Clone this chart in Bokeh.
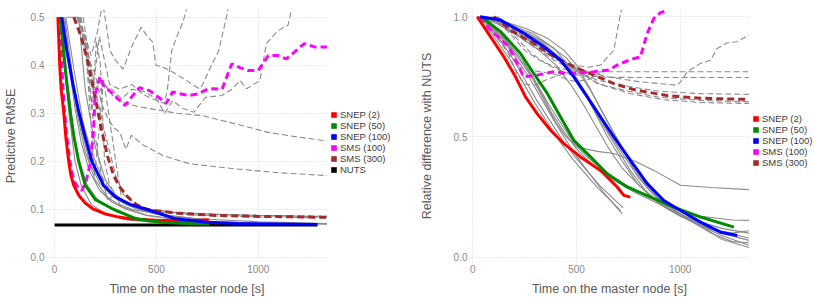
from bokeh.plotting import figure
from bokeh.layouts import row
from bokeh.models import FixedTicker, PrintfTickFormatter, Legend, LegendItem, Range1d
from bokeh.embed import file_html
from bokeh.resources import INLINE

FONT = "Liberation Sans"

# ---------------- Predictive RMSE vs time ----------------
rmse_snep2_t = [16, 25, 32, 45, 55, 69, 80, 94, 120, 150, 191, 250, 300, 368, 500, 650, 757]
rmse_snep2 = [0.5, 0.4, 0.35, 0.3, 0.25, 0.2, 0.17, 0.15, 0.128, 0.113, 0.1, 0.09, 0.085, 0.08, 0.077, 0.076, 0.078]

rmse_snep50_t = [29, 45, 60, 78, 95, 118, 150, 200, 288, 400, 520, 650, 760]
rmse_snep50 = [0.5, 0.42, 0.36, 0.3, 0.25, 0.2, 0.15, 0.12, 0.1, 0.08, 0.073, 0.07, 0.069]

rmse_snep100_t = [35, 60, 90, 120, 150, 182, 240, 300, 370, 450, 595, 750, 900, 1100, 1291]
rmse_snep100 = [0.5, 0.43, 0.36, 0.3, 0.25, 0.2, 0.15, 0.125, 0.11, 0.1, 0.08, 0.073, 0.07, 0.069, 0.068]

rmse_sms100_t = [22, 35, 45, 60, 75, 94, 115, 134, 155, 175, 191, 199, 212, 223, 239, 260, 288, 345,
                 380, 417, 466, 520, 547, 579, 620, 660, 700, 757, 822, 870, 910, 951, 1000, 1049,
                 1097, 1138, 1226, 1275, 1340]
rmse_sms100 = [0.5, 0.4, 0.32, 0.25, 0.2, 0.16, 0.145, 0.139, 0.16, 0.195, 0.264, 0.34, 0.36, 0.376,
               0.358, 0.35, 0.34, 0.316, 0.335, 0.353, 0.347, 0.33, 0.32, 0.344, 0.34, 0.337, 0.34,
               0.351, 0.35, 0.403, 0.395, 0.389, 0.389, 0.42, 0.42, 0.413, 0.445, 0.438, 0.438]

rmse_sms300_t = [94, 130, 167, 200, 231, 260, 290, 320, 360, 400, 450, 500, 600, 700, 800, 1000, 1200, 1340]
rmse_sms300 = [0.5, 0.46, 0.4, 0.33, 0.264, 0.21, 0.17, 0.146, 0.125, 0.11, 0.1, 0.097, 0.092, 0.089,
               0.087, 0.085, 0.084, 0.083]

rmse_nuts_t = [0, 1290]
rmse_nuts = [0.067, 0.067]

# individual SMS runs (t, rmse)
rmse_sms_run_a = [(110, 0.5), (150, 0.46), (180, 0.42), (210, 0.47), (236, 0.53), (255, 0.48), (272, 0.43),
                  (300, 0.41), (336, 0.392), (380, 0.44), (425, 0.479), (455, 0.46), (482, 0.448), (497, 0.4),
                  (530, 0.396), (563, 0.39), (640, 0.37), (709, 0.351), (725, 0.358), (770, 0.4), (806, 0.43),
                  (862, 0.535)]
rmse_sms_run_b = [(120, 0.5), (160, 0.44), (185, 0.36), (200, 0.39), (220, 0.46), (240, 0.42), (270, 0.36),
                  (320, 0.35), (380, 0.36), (430, 0.34), (480, 0.33), (540, 0.32), (555, 0.354), (575, 0.43),
                  (600, 0.46), (630, 0.49), (660, 0.535)]
rmse_sms_run_c = [(130, 0.5), (170, 0.38), (200, 0.33), (240, 0.36), (280, 0.35), (330, 0.33), (380, 0.35),
                  (440, 0.345), (500, 0.33), (540, 0.3), (579, 0.326), (630, 0.31), (684, 0.302), (741, 0.333),
                  (822, 0.337), (870, 0.35), (911, 0.368), (943, 0.351), (1008, 0.368), (1040, 0.445),
                  (1097, 0.472), (1146, 0.483), (1162, 0.514), (1180, 0.54)]
rmse_sms_run_d = [(140, 0.5), (175, 0.4), (200, 0.35), (230, 0.37), (260, 0.35), (300, 0.33), (350, 0.32),
                  (400, 0.315), (460, 0.31), (530, 0.305), (600, 0.3), (725, 0.295), (886, 0.278),
                  (1049, 0.26), (1200, 0.25), (1340, 0.242)]
rmse_sms_run_e = [(125, 0.5), (160, 0.42), (200, 0.38), (230, 0.32), (260, 0.29), (290, 0.27), (320, 0.26),
                  (350, 0.225), (377, 0.254), (430, 0.235), (531, 0.212), (660, 0.195), (886, 0.184),
                  (1100, 0.176), (1340, 0.17)]
rmse_sms_run_f = [(95, 0.5), (130, 0.48), (160, 0.4), (185, 0.3), (200, 0.25), (230, 0.17), (270, 0.14),
                  (320, 0.12), (380, 0.105), (450, 0.097), (600, 0.09), (800, 0.086), (1000, 0.084),
                  (1340, 0.082)]
rmse_sms_run_g = [(110, 0.5), (150, 0.45), (200, 0.35), (240, 0.27), (300, 0.17), (340, 0.13), (400, 0.11),
                  (460, 0.1), (600, 0.093), (900, 0.088), (1340, 0.084)]
rmse_sms_run_h = [(120, 0.5), (160, 0.42), (185, 0.31), (205, 0.45), (225, 0.4), (245, 0.2), (270, 0.15),
                  (300, 0.13), (335, 0.115), (400, 0.104), (500, 0.095), (700, 0.09), (1000, 0.087),
                  (1340, 0.085)]
rmse_sms_run_i = [(150, 0.45), (175, 0.3), (195, 0.17), (215, 0.25), (240, 0.37), (265, 0.3), (300, 0.2),
                  (330, 0.12), (360, 0.11), (420, 0.1), (550, 0.094), (800, 0.089), (1100, 0.086),
                  (1340, 0.085)]

# individual SNEP runs (t, rmse)
rmse_snep_run_1 = [(30, 0.5), (50, 0.4), (70, 0.3), (100, 0.2), (130, 0.15), (180, 0.11), (250, 0.09),
                   (350, 0.078), (500, 0.072), (750, 0.07)]
rmse_snep_run_2 = [(35, 0.5), (60, 0.38), (90, 0.27), (120, 0.2), (160, 0.15), (220, 0.115), (300, 0.095),
                   (420, 0.08), (600, 0.073), (800, 0.07)]
rmse_snep_run_3 = [(40, 0.5), (70, 0.4), (100, 0.31), (130, 0.24), (170, 0.18), (220, 0.14), (280, 0.115),
                   (350, 0.1), (450, 0.087), (600, 0.078), (760, 0.076)]
rmse_snep_run_4 = [(45, 0.5), (80, 0.38), (110, 0.3), (150, 0.22), (200, 0.16), (260, 0.125), (330, 0.105),
                   (450, 0.088), (650, 0.076), (1000, 0.071), (1340, 0.069)]
rmse_snep_run_5 = [(50, 0.5), (90, 0.37), (130, 0.27), (170, 0.2), (220, 0.155), (280, 0.128), (340, 0.112),
                   (420, 0.098), (550, 0.085), (750, 0.078)]
rmse_snep_run_6 = [(55, 0.5), (95, 0.39), (140, 0.28), (180, 0.22), (230, 0.17), (260, 0.12), (300, 0.13),
                   (320, 0.11), (380, 0.1), (500, 0.09), (700, 0.08)]
rmse_snep_run_7 = [(60, 0.5), (118, 0.5), (150, 0.35), (200, 0.23), (250, 0.16), (300, 0.13), (380, 0.105),
                   (500, 0.09), (700, 0.08), (1000, 0.074), (1340, 0.07)]

# ---------------- Relative difference with NUTS vs time ----------------
rel_snep2_t = [21, 85, 150, 206, 254, 310, 375, 439, 519, 616, 696, 728, 760]
rel_snep2 = [1.0, 0.917, 0.833, 0.75, 0.667, 0.597, 0.528, 0.472, 0.417, 0.361, 0.292, 0.257, 0.25]

rel_snep50_t = [40, 134, 230, 294, 359, 423, 487, 552, 648, 744, 857, 969, 1098, 1259]
rel_snep50 = [1.0, 0.938, 0.847, 0.764, 0.681, 0.583, 0.486, 0.431, 0.347, 0.292, 0.25, 0.208, 0.167, 0.125]

rel_snep100_t = [35, 134, 246, 342, 423, 487, 552, 616, 680, 760, 841, 921, 1001, 1098, 1194, 1275]
rel_snep100 = [1.0, 0.986, 0.931, 0.875, 0.819, 0.75, 0.667, 0.583, 0.5, 0.403, 0.306, 0.236, 0.194,
               0.146, 0.104, 0.09]

rel_sms100_t = [35, 93, 166, 190, 222, 246, 310, 390, 470, 583, 655, 696, 760, 808, 841, 873, 905, 937]
rel_sms100 = [1.0, 0.938, 0.882, 0.847, 0.792, 0.75, 0.757, 0.771, 0.764, 0.771, 0.778, 0.799, 0.822,
              0.833, 0.931, 0.993, 1.017, 1.025]

rel_sms300_t = [101, 182, 294, 391, 487, 583, 680, 776, 937, 1098, 1331]
rel_sms300 = [1.0, 0.944, 0.889, 0.833, 0.792, 0.757, 0.722, 0.697, 0.672, 0.661, 0.656]

rel_sms_run_1 = [(100, 1.0), (200, 0.93), (300, 0.87), (400, 0.83), (480, 0.8), (560, 0.79), (616, 0.799),
                 (680, 0.861), (712, 1.014), (720, 1.04)]
rel_sms_run_2 = [(90, 1.0), (180, 0.93), (250, 0.86), (320, 0.82), (400, 0.79), (480, 0.775), (600, 0.771),
                 (800, 0.771), (1000, 0.771), (1331, 0.771)]
rel_sms_run_3 = [(110, 1.0), (200, 0.92), (280, 0.85), (360, 0.8), (440, 0.77), (520, 0.755), (650, 0.748),
                 (900, 0.747), (1331, 0.747)]
rel_sms_run_4 = [(120, 1.0), (220, 0.93), (320, 0.87), (420, 0.82), (520, 0.78), (650, 0.75), (800, 0.73),
                 (985, 0.715), (1001, 0.729), (1034, 0.771), (1098, 0.806), (1146, 0.819), (1178, 0.868),
                 (1227, 0.892), (1275, 0.896), (1331, 0.924)]
rel_sms_run_5 = [(95, 1.0), (190, 0.94), (290, 0.88), (390, 0.82), (480, 0.78), (600, 0.736), (750, 0.71),
                 (900, 0.69), (1100, 0.68), (1331, 0.677)]
rel_sms_run_6 = [(105, 1.0), (200, 0.95), (300, 0.89), (400, 0.83), (500, 0.78), (600, 0.722), (750, 0.69),
                 (900, 0.665), (1100, 0.652), (1331, 0.646)]
rel_sms_run_7 = [(115, 1.0), (210, 0.94), (310, 0.88), (410, 0.82), (510, 0.77), (610, 0.72), (760, 0.68),
                 (920, 0.655), (1100, 0.643), (1331, 0.639)]
rel_sms_run_8 = [(35, 1.0), (110, 0.92), (170, 0.85), (215, 0.76), (250, 0.72), (300, 0.715), (360, 0.74),
                 (430, 0.76), (500, 0.765), (560, 0.77)]
rel_sms_run_9 = [(30, 1.0), (120, 0.92), (180, 0.84), (225, 0.79), (270, 0.78), (330, 0.77), (400, 0.76),
                 (450, 0.74), (500, 0.73), (560, 0.74), (620, 0.77)]

rel_snep_run_1 = [(21, 1.0), (100, 0.92), (180, 0.82), (240, 0.73), (300, 0.64), (360, 0.56), (420, 0.48),
                  (480, 0.41), (540, 0.35), (600, 0.29), (660, 0.24), (712, 0.194)]
rel_snep_run_2 = [(30, 1.0), (110, 0.93), (190, 0.83), (250, 0.74), (310, 0.65), (370, 0.57), (430, 0.49),
                  (490, 0.42), (550, 0.36), (610, 0.3), (670, 0.25), (725, 0.205)]
rel_snep_run_3 = [(40, 1.0), (130, 0.93), (220, 0.83), (290, 0.74), (350, 0.64), (400, 0.56), (450, 0.5),
                  (503, 0.458), (600, 0.44), (680, 0.431), (780, 0.4), (873, 0.361), (1001, 0.299),
                  (1150, 0.29), (1331, 0.281)]
rel_snep_run_4 = [(40, 1.0), (140, 0.92), (240, 0.82), (310, 0.72), (370, 0.63), (430, 0.55), (490, 0.47),
                  (560, 0.41), (660, 0.34), (760, 0.29), (870, 0.24), (980, 0.2), (1100, 0.17), (1250, 0.155),
                  (1331, 0.153)]
rel_snep_run_5 = [(45, 1.0), (150, 0.9), (250, 0.8), (320, 0.7), (380, 0.6), (440, 0.52), (500, 0.45),
                  (580, 0.38), (680, 0.32), (780, 0.27), (900, 0.22), (1050, 0.16), (1200, 0.12), (1331, 0.1)]
rel_snep_run_6 = [(35, 1.0), (120, 0.93), (200, 0.84), (270, 0.75), (330, 0.66), (390, 0.57), (440, 0.5),
                  (500, 0.42), (560, 0.35), (630, 0.27), (690, 0.21), (720, 0.18)]
rel_snep_run_7 = [(30, 1.0), (130, 0.98), (240, 0.94), (340, 0.89), (420, 0.83), (480, 0.77), (540, 0.69),
                  (600, 0.6), (660, 0.51), (730, 0.42), (800, 0.33), (870, 0.26), (950, 0.2), (1050, 0.15),
                  (1150, 0.1), (1250, 0.065), (1331, 0.06)]
rel_snep_run_8 = [(35, 1.0), (140, 0.97), (250, 0.93), (350, 0.88), (430, 0.82), (500, 0.74), (560, 0.65),
                  (620, 0.56), (690, 0.46), (760, 0.36), (830, 0.28), (900, 0.22), (1000, 0.17), (1100, 0.13),
                  (1200, 0.09), (1331, 0.05)]
rel_snep_run_9 = [(40, 1.0), (150, 0.98), (260, 0.95), (360, 0.91), (440, 0.86), (500, 0.8), (560, 0.71),
                  (620, 0.61), (690, 0.5), (760, 0.4), (830, 0.31), (900, 0.24), (980, 0.19), (1080, 0.14),
                  (1200, 0.1), (1331, 0.07)]
rel_snep_run_10 = [(45, 1.0), (160, 0.97), (270, 0.93), (370, 0.88), (450, 0.83), (510, 0.77), (570, 0.69),
                   (640, 0.58), (710, 0.47), (780, 0.36), (850, 0.28), (930, 0.22), (1020, 0.17),
                   (1120, 0.12), (1200, 0.075), (1331, 0.04)]
rel_snep_run_11 = [(30, 1.0), (120, 0.97), (220, 0.92), (320, 0.86), (400, 0.8), (470, 0.72), (530, 0.64),
                   (590, 0.55), (650, 0.46), (720, 0.37), (800, 0.3), (880, 0.24), (970, 0.19), (1070, 0.15),
                   (1180, 0.11), (1331, 0.08)]
rel_snep_run_12 = [(50, 1.0), (170, 0.97), (290, 0.93), (390, 0.87), (460, 0.8), (530, 0.7), (590, 0.6),
                   (650, 0.5), (720, 0.4), (790, 0.31), (860, 0.25), (940, 0.2), (1030, 0.16), (1130, 0.12),
                   (1250, 0.1), (1331, 0.11)]

time_ticks = [0, 500, 1000]
rmse_ticks = [0.0, 0.1, 0.2, 0.3, 0.4, 0.5]
rel_ticks = [0.0, 0.5, 1.0]

method_labels = ["SNEP (2)", "SNEP (50)", "SNEP (100)", "SMS (100)", "SMS (300)", "NUTS"]
method_colors = ["#ff0000", "#008b00", "#0000ff", "#ff00ff", "#a52a2a", "#000000"]

RUN_GRAY = "#8a8a8a"


def style_panel(p, yticks, ylabel, ylabel_standoff):
    p.outline_line_color = None
    p.background_fill_color = "white"
    p.border_fill_color = "white"
    for ax in (p.xaxis[0], p.yaxis[0]):
        ax.axis_line_color = None
        ax.major_tick_line_color = None
        ax.minor_tick_line_color = None
        ax.major_tick_out = 0
        ax.major_tick_in = 0
        ax.major_label_standoff = 2
        ax.major_label_text_font = FONT
        ax.major_label_text_font_size = "10px"
        ax.major_label_text_color = "#8a8a8a"
        ax.axis_label_text_font = FONT
        ax.axis_label_text_font_size = "12.5px"
        ax.axis_label_text_font_style = "normal"
        ax.axis_label_text_color = "#5a5a5a"
    p.xaxis.ticker = FixedTicker(ticks=time_ticks)
    p.xaxis.formatter = PrintfTickFormatter(format="%d")
    p.xaxis.axis_label = "Time on the master node [s]"
    p.xaxis.axis_label_standoff = 6
    p.yaxis.ticker = FixedTicker(ticks=yticks)
    p.yaxis.formatter = PrintfTickFormatter(format="%.1f")
    p.yaxis.axis_label = ylabel
    p.yaxis.axis_label_standoff = ylabel_standoff
    for g in (p.xgrid[0], p.ygrid[0]):
        g.grid_line_color = "#d2d2d2"
        g.grid_line_dash = "1 2"
        g.grid_line_width = 1


def draw_runs(p, runs, dash):
    for run in runs:
        p.line([pt[0] for pt in run], [pt[1] for pt in run],
               line_color=RUN_GRAY, line_width=1.1, line_dash=dash)


def legend_strip(width, n, bottom):
    # narrow canvas next to a panel that only holds the colour key
    s = figure(width=width, height=298, x_range=Range1d(0, 1), y_range=Range1d(0, 1),
               x_axis_type=None, y_axis_type=None, output_backend="svg", toolbar_location=None,
               min_border_left=0, min_border_right=0, min_border_top=0, min_border_bottom=0)
    s.outline_line_color = None
    s.background_fill_color = "white"
    s.border_fill_color = "white"
    items = []
    for lab, col in zip(method_labels[:n], method_colors[:n]):
        r = s.quad(left=[0], right=[0], top=[0], bottom=[0], fill_color=col, line_color=None)
        items.append(LegendItem(label=lab, renderers=[r]))
    leg = Legend(items=items, location=(3, bottom), glyph_width=7, glyph_height=7,
                 label_height=11, label_standoff=3, spacing=0, padding=0, margin=0,
                 border_line_color=None, background_fill_alpha=0,
                 label_text_font=FONT, label_text_font_size="9.5px", label_text_color="#3c3c3c")
    s.add_layout(leg)
    return s


# ---- left panel
left = figure(width=327, height=298, x_range=Range1d(-40, 1340), y_range=Range1d(-0.011, 0.516),
              output_backend="svg", toolbar_location=None,
              min_border_left=42, min_border_right=0, min_border_top=2, min_border_bottom=36)
style_panel(left, rmse_ticks, "Predictive RMSE", 10)

left.line(rmse_nuts_t, rmse_nuts, line_color=method_colors[5], line_width=3)
draw_runs(left, [rmse_sms_run_a, rmse_sms_run_b, rmse_sms_run_c, rmse_sms_run_d, rmse_sms_run_e,
                 rmse_sms_run_f, rmse_sms_run_g, rmse_sms_run_h, rmse_sms_run_i], "6 3")
draw_runs(left, [rmse_snep_run_1, rmse_snep_run_2, rmse_snep_run_3, rmse_snep_run_4,
                 rmse_snep_run_5, rmse_snep_run_6, rmse_snep_run_7], "solid")
left.line(rmse_sms300_t, rmse_sms300, line_color=method_colors[4], line_width=3, line_dash="7 4")
left.line(rmse_sms100_t, rmse_sms100, line_color=method_colors[3], line_width=3, line_dash="7 4")
left.line(rmse_snep2_t, rmse_snep2, line_color=method_colors[0], line_width=3, line_join="round")
left.line(rmse_snep50_t, rmse_snep50, line_color=method_colors[1], line_width=3, line_join="round")
left.line(rmse_snep100_t, rmse_snep100, line_color=method_colors[2], line_width=3, line_join="round")

left_key = legend_strip(78, 6, 87)

# ---- right panel
right = figure(width=344, height=298, x_range=Range1d(-16, 1334), y_range=Range1d(-0.022, 1.03),
               output_backend="svg", toolbar_location=None,
               min_border_left=64, min_border_right=0, min_border_top=9, min_border_bottom=36)
style_panel(right, rel_ticks, "Relative difference with NUTS", 17)

draw_runs(right, [rel_sms_run_1, rel_sms_run_2, rel_sms_run_3, rel_sms_run_4, rel_sms_run_5,
                  rel_sms_run_6, rel_sms_run_7, rel_sms_run_8, rel_sms_run_9], "6 3")
draw_runs(right, [rel_snep_run_1, rel_snep_run_2, rel_snep_run_3, rel_snep_run_4, rel_snep_run_5,
                  rel_snep_run_6, rel_snep_run_7, rel_snep_run_8, rel_snep_run_9, rel_snep_run_10,
                  rel_snep_run_11, rel_snep_run_12], "solid")
right.line(rel_sms300_t, rel_sms300, line_color=method_colors[4], line_width=3, line_dash="7 4")
right.line(rel_sms100_t, rel_sms100, line_color=method_colors[3], line_width=3, line_dash="7 4")
right.line(rel_snep2_t, rel_snep2, line_color=method_colors[0], line_width=3, line_join="round")
right.line(rel_snep50_t, rel_snep50, line_color=method_colors[1], line_width=3, line_join="round")
right.line(rel_snep100_t, rel_snep100, line_color=method_colors[2], line_width=3, line_join="round")

right_key = legend_strip(65, 5, 94)

layout = row(left, left_key, right, right_key, spacing=0)
open("out.html", "w").write(file_html(layout, INLINE))
